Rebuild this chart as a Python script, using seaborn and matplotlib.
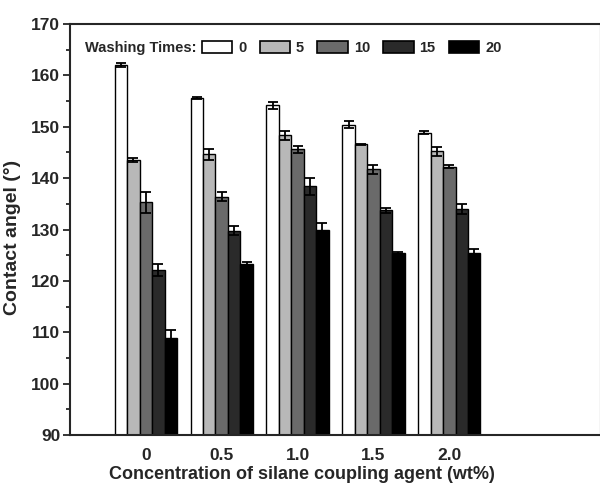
import matplotlib
matplotlib.use("Agg")
import matplotlib.pyplot as plt
from matplotlib.patches import Patch
from matplotlib.ticker import MultipleLocator
import seaborn as sns
import pandas as pd
import numpy as np

# concentration of silane coupling agent (wt%)
concentrations = ["0", "0.5", "1.0", "1.5", "2.0"]
washing_times = ["0", "5", "10", "15", "20"]

# contact angle per washing time, one value per concentration
angle_w0 = [162.1, 155.6, 154.2, 150.4, 148.8]
angle_w5 = [143.6, 144.6, 148.3, 146.6, 145.2]
angle_w10 = [135.3, 136.4, 145.6, 141.7, 142.2]
angle_w15 = [122.1, 129.8, 138.4, 133.7, 134.0]
angle_w20 = [108.8, 123.2, 130.0, 125.5, 125.4]

err_w0 = [0.4, 0.2, 0.7, 0.7, 0.3]
err_w5 = [0.4, 1.1, 0.8, 0.1, 0.8]
err_w10 = [2.0, 0.9, 0.7, 0.8, 0.3]
err_w15 = [1.2, 0.9, 1.6, 0.4, 0.9]
err_w20 = [1.6, 0.5, 1.2, 0.2, 0.8]

colors = ["#ffffff", "#b8b8b8", "#6a6a6a", "#2a2a2a", "#000000"]

angles = [angle_w0, angle_w5, angle_w10, angle_w15, angle_w20]
errs = [err_w0, err_w5, err_w10, err_w15, err_w20]

rows = []
for w, vals, es in zip(washing_times, angles, errs):
    for c, v, e in zip(concentrations, vals, es):
        rows.append({"conc": c, "wash": w, "angle": v, "err": e})
df = pd.DataFrame(rows)

sns.set_style("ticks")
plt.rcParams["font.family"] = ["Liberation Sans", "DejaVu Sans"]
plt.rcParams["font.weight"] = "bold"

fig = plt.figure(figsize=(6, 4.91), dpi=100)
W, H = 600, 491
ax = fig.add_axes([70 / W, 1 - 435 / H, 531 / W, 411 / H])

sns.barplot(data=df, x="conc", y="angle", hue="wash", order=concentrations,
            hue_order=washing_times, palette=colors, errorbar=None,
            width=0.82, edgecolor="black", linewidth=1.0, ax=ax, legend=False)

# error bars at bar centres
for container, w in zip(ax.containers, washing_times):
    sub = df[df["wash"] == w].set_index("conc").loc[concentrations]
    xs = [p.get_x() + p.get_width() / 2 for p in container.patches]
    ax.errorbar(xs, sub["angle"], yerr=sub["err"], fmt="none",
                ecolor="black", elinewidth=1.3, capsize=3.5, capthick=1.3)

ax.set_ylim(90, 170)
ax.set_xlim(-1, 6)
ax.yaxis.set_major_locator(MultipleLocator(10))
ax.yaxis.set_minor_locator(MultipleLocator(5))
ax.tick_params(axis="y", which="major", length=5, width=1.3, labelsize=12.5,
               direction="out", pad=2)
ax.tick_params(axis="y", which="minor", length=3, width=1.3, direction="out")
ax.tick_params(axis="x", length=0, labelsize=12.5, pad=9)
for s in ax.spines.values():
    s.set_linewidth(1.5)
    s.set_visible(True)

ax.set_xlabel("Concentration of silane coupling agent (wt%)", fontsize=13,
              fontweight="bold")
ax.xaxis.set_label_coords(0.437, -0.075)
ax.set_ylabel("Contact angel (°)", fontsize=14, fontweight="bold")
ax.yaxis.set_label_coords(-0.092, 0.48)

ax.text(0.028, 0.942, "Washing Times:", transform=ax.transAxes, fontsize=10.5,
        fontweight="bold", va="center", ha="left")
handles = [Patch(facecolor=c, edgecolor="black", linewidth=1.2) for c in colors]
ax.legend(handles, washing_times, ncol=5, loc="center left",
          bbox_to_anchor=(0.248, 0.942), frameon=False, fontsize=10.5,
          handlelength=2.1, handleheight=0.95, handletextpad=0.4,
          columnspacing=0.9, borderpad=0, borderaxespad=0)

fig.savefig("out.png", dpi=100)
